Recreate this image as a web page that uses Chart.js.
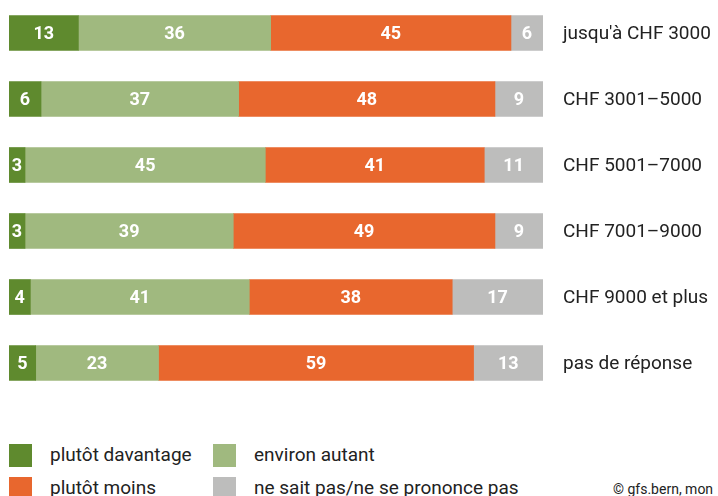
<!DOCTYPE html>
<html>
<head>
<meta charset="utf-8">
<script src="https://cdn.jsdelivr.net/npm/chart.js@4/dist/chart.umd.min.js"></script>
<style>
  body { margin: 0; background: #fff; width: 718px; height: 496px; overflow: hidden; position: relative; font-family: Roboto, sans-serif; }
  #wrap { position: absolute; left: 0; top: 0; width: 718px; height: 396px; }
  .leg { position: absolute; font-size: 19px; color: #222; line-height: 22px; }
  .leg span.box { position: absolute; left: 0; top: 0; width: 23px; height: 23px; }
  .leg span.txt { position: absolute; left: 41px; top: 0; white-space: nowrap; }
  #copy { position: absolute; left: 613px; top: 481px; font-size: 14px; color: #222; white-space: nowrap; }
</style>
</head>
<body>
<div id="wrap"><canvas id="bar-chart"></canvas></div>
<div id="legend"></div>
<div id="copy">© gfs.bern, mon</div>
<script>
const categorias = ["jusqu'à CHF 3000", "CHF 3001–5000", "CHF 5001–7000", "CHF 7001–9000", "CHF 9000 et plus", "pas de réponse"]
const davantage = [13, 6, 3, 3, 4, 5]
const autant = [36, 37, 45, 39, 41, 23]
const moins = [45, 48, 41, 49, 38, 59]
const nesaitpas = [6, 9, 11, 9, 17, 13]
const nomes = ["plutôt davantage", "environ autant", "plutôt moins", "ne sait pas/ne se prononce pas"]
const cores = ["#5f8a2e", "#a0b97f", "#e8672e", "#bdbdbc"]

// valores dentro das barras + categorias a direita
const rotulos = {
    id: 'rotulos',
    afterDatasetsDraw(chart) {
        const ctx = chart.ctx
        ctx.save()
        ctx.font = 'bold 18px Roboto'
        ctx.fillStyle = '#fff'
        ctx.textAlign = 'center'
        ctx.textBaseline = 'middle'
        chart.data.datasets.forEach((ds, i) => {
            chart.getDatasetMeta(i).data.forEach((bar, j) => {
                const x = (bar.x + bar.base) / 2
                ctx.fillText(ds.data[j], x, bar.y + 1)
            })
        })
        const y = chart.scales.y
        ctx.font = '19px Roboto'
        ctx.fillStyle = '#222'
        ctx.textAlign = 'left'
        chart.data.labels.forEach((lab, j) => {
            ctx.fillText(lab, chart.chartArea.right + 20, y.getPixelForValue(j) + 1)
        })
        ctx.restore()
    }
}

const series = [davantage, autant, moins, nesaitpas]

new Chart(document.getElementById("bar-chart"), {
    type: 'bar',
    data: {
        labels: categorias,
        datasets: series.map((d, i) => ({
            label: nomes[i],
            data: d,
            backgroundColor: cores[i],
            barThickness: 35
        }))
    },
    options: {
        indexAxis: 'y',
        responsive: true,
        maintainAspectRatio: false,
        animation: false,
        layout: { padding: { left: 9, top: 0, bottom: 0, right: 175 } },
        plugins: { legend: { display: false }, tooltip: { enabled: false } },
        scales: {
            x: { stacked: true, min: 0, max: 100, display: false },
            y: { stacked: true, display: false }
        }
    },
    plugins: [rotulos]
});

// legenda em duas colunas
const legenda = document.getElementById('legend')
const posicoes = [[9, 444], [213, 444], [9, 477], [213, 477]]
nomes.forEach((n, i) => {
    const el = document.createElement('div')
    el.className = 'leg'
    el.style.left = posicoes[i][0] + 'px'
    el.style.top = posicoes[i][1] + 'px'
    el.innerHTML = '<span class="box" style="background:' + cores[i] + '"></span><span class="txt">' + n + '</span>'
    legenda.appendChild(el)
})
</script>
</body>
</html>
